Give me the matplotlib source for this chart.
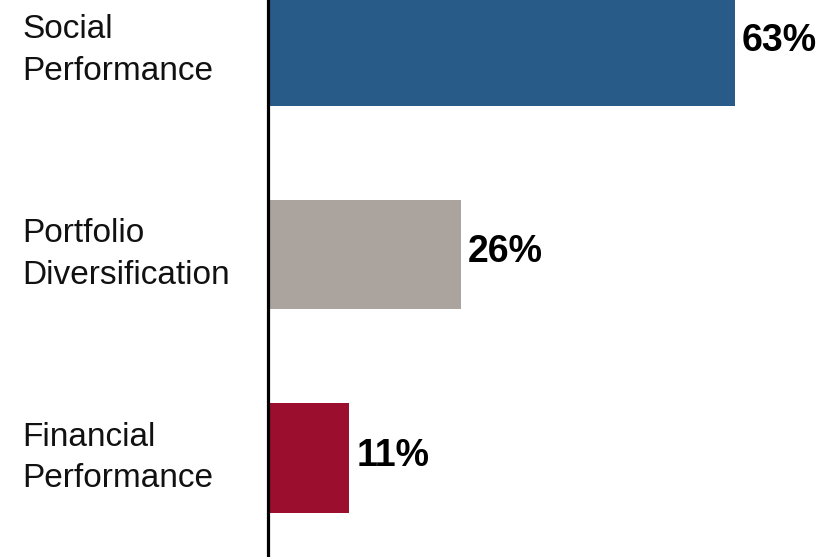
import matplotlib.pyplot as plt
from matplotlib.transforms import blended_transform_factory

categories = ["Social\nPerformance", "Portfolio\nDiversification", "Financial\nPerformance"]
shares = [63, 26, 11]
bar_colors = ["#295B89", "#ABA39D", "#9C0E2D"]
label_nudge = [-0.05, -0.01, -0.01]  # small vertical shift for the value labels

plt.rcParams['font.family'] = ['Liberation Sans', 'DejaVu Sans']

fig = plt.figure(figsize=(8.34, 5.57), dpi=100)
ax = fig.add_axes([268 / 834, 0, 1 - 268 / 834, 1])

ypos = list(range(len(categories)))
ax.barh(ypos, shares, height=0.54, color=bar_colors)

ax.set_xlim(0, 76.4)
ax.set_ylim(2.486, -0.25)

# value labels just right of each bar
for y, v, dy in zip(ypos, shares, label_nudge):
    ax.text(v + 0.95, y + dy, f"{v}%", ha="left", va="center",
            fontsize=27, fontweight="bold", color="black")

# category names sit in the left margin of the figure
trans = blended_transform_factory(fig.transFigure, ax.transData)
for y, name in zip(ypos, categories):
    ax.text(22 / 834, y, name, transform=trans, ha="left", va="center",
            fontsize=24, color="#111111", linespacing=1.45)

for side in ["top", "right", "bottom"]:
    ax.spines[side].set_visible(False)
ax.spines["left"].set_linewidth(2.3)
ax.spines["left"].set_color("black")
ax.set_xticks([])
ax.set_yticks([])

fig.savefig("out.png", dpi=100)
